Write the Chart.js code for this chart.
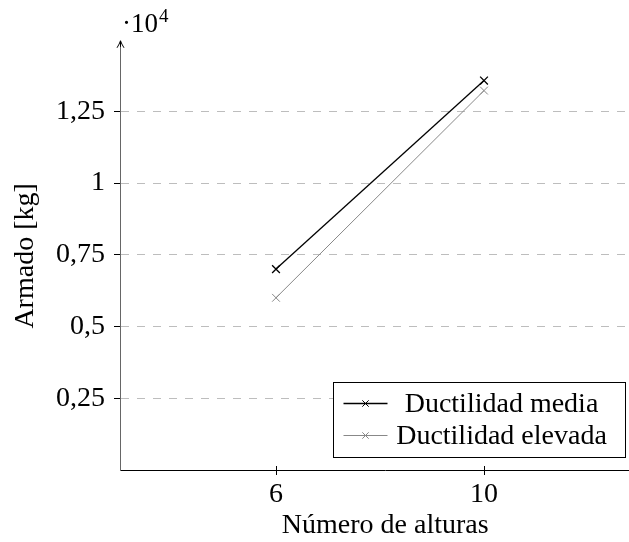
<!DOCTYPE html>
<html>
<head>
<meta charset="utf-8">
<script src="https://cdn.jsdelivr.net/npm/chart.js@4.4.1/dist/chart.umd.min.js"></script>
<style>
  html, body { margin: 0; padding: 0; background: #fff; overflow: hidden; width: 629px; height: 542px; }
  #wrap { position: absolute; left: 0; top: 0; width: 700px; height: 542px; }
  #probe { position: absolute; left: -999px; top: 0; font-family: 'Liberation Serif'; font-size: 28px; }
</style>
</head>
<body>
<span id="probe">Número de alturas 0123456789</span>
<div id="wrap"><canvas id="c" width="700" height="542"></canvas></div>
<script>
// Número de alturas (x) and steel weight in kg for each ductility class
const alturas = [6, 10];
const ductilidadMedia = [7000, 13570];
const ductilidadElevada = [6000, 13220];
const yTickValues = [2500, 5000, 7500, 10000, 12500];
const seriesNames = ['Ductilidad media', 'Ductilidad elevada'];
const xTitle = 'Número de alturas';
const yTitle = 'Armado [kg]';

const FONT = '"Liberation Serif", "DejaVu Serif", serif';
const FS = 28;

const toPoints = (xs, ys) => xs.map((x, i) => ({ x: x, y: ys[i] }));

// axis arrow, exponent label, inner x ticks and the boxed legend
const decorations = {
  id: 'decorations',
  afterDraw(chart) {
    const { ctx, chartArea: a, scales: { x } } = chart;
    ctx.save();
    ctx.strokeStyle = '#000';
    ctx.lineWidth = 1;
    const ax = a.left + 0.5, tip = a.top - 1;
    ctx.beginPath();
    ctx.moveTo(ax - 3.5, tip + 7);
    ctx.quadraticCurveTo(ax - 1, tip + 3, ax, tip);
    ctx.quadraticCurveTo(ax + 1, tip + 3, ax + 3.5, tip + 7);
    ctx.stroke();
    ctx.beginPath();
    ctx.moveTo(ax, tip);
    ctx.lineTo(ax, tip + 6);
    ctx.stroke();

    // ·10^4 multiplier
    ctx.fillStyle = '#000';
    ctx.textBaseline = 'alphabetic';
    ctx.textAlign = 'left';
    ctx.font = (FS - 1) + 'px ' + FONT;
    const base = a.top - 10;
    const t1 = '·10';
    ctx.fillText(t1, a.left + 2, base);
    const w1 = ctx.measureText(t1).width;
    ctx.font = '19px ' + FONT;
    ctx.fillText('4', a.left + 2 + w1 + 1, base - 10);

    // inner halves of the x ticks
    ctx.beginPath();
    x.ticks.forEach(t => {
      const px = Math.round(x.getPixelForValue(t.value)) + 0.5;
      ctx.moveTo(px, a.bottom);
      ctx.lineTo(px, a.bottom - 4);
    });
    ctx.stroke();

    // legend box
    const bw = 292, bh = 75;
    const bx = Math.round(a.right - 25.4 - bw) + 0.5;
    const by = Math.round(a.bottom - 13 - bh) + 0.5;
    ctx.fillStyle = '#fff';
    ctx.fillRect(bx, by, bw, bh);
    ctx.strokeStyle = '#000';
    ctx.lineWidth = 1;
    ctx.strokeRect(bx, by, bw, bh);
    chart.data.datasets.forEach((ds, i) => {
      const ry = by + 21 + i * 32;
      ctx.strokeStyle = ds.borderColor;
      ctx.lineWidth = ds.borderWidth;
      ctx.beginPath();
      ctx.moveTo(bx + 10, ry);
      ctx.lineTo(bx + 54, ry);
      ctx.stroke();
      ctx.lineWidth = 1;
      Chart.helpers.drawPoint(ctx, { pointStyle: 'crossRot', radius: 4.5, borderWidth: 1, rotation: 0 }, bx + 32, ry);
      ctx.fillStyle = '#000';
      ctx.font = FS + 'px ' + FONT;
      ctx.textAlign = 'center';
      ctx.textBaseline = 'middle';
      ctx.fillText(ds.label, bx + 168, ry + 1);
    });
    ctx.restore();
  }
};

function draw() {
  Chart.defaults.font.family = FONT;
  Chart.defaults.font.size = FS;
  Chart.defaults.color = '#000';
  new Chart(document.getElementById('c'), {
    type: 'scatter',
    data: {
      datasets: [
        {
          label: seriesNames[0],
          data: toPoints(alturas, ductilidadMedia),
          showLine: true,
          borderColor: '#000',
          backgroundColor: '#000',
          borderWidth: 1.3,
          pointStyle: 'crossRot',
          pointRadius: 5.5,
          pointBorderWidth: 1.3,
          pointBorderColor: '#000'
        },
        {
          label: seriesNames[1],
          data: toPoints(alturas, ductilidadElevada),
          showLine: true,
          borderColor: '#888',
          backgroundColor: '#888',
          borderWidth: 1,
          pointStyle: 'crossRot',
          pointRadius: 5.5,
          pointBorderWidth: 1,
          pointBorderColor: '#888'
        }
      ]
    },
    options: {
      responsive: false,
      animation: false,
      devicePixelRatio: 1,
      layout: { padding: { left: 0, top: 41.8, right: 700 - 650.4, bottom: 0 } },
      plugins: { legend: { display: false }, tooltip: { enabled: false } },
      scales: {
        x: {
          type: 'linear',
          min: 3,
          max: 13.2,
          afterBuildTicks: s => { s.ticks = alturas.map(v => ({ value: v })); },
          afterFit: s => { s.height = 72; },
          border: { color: '#000', width: 1 },
          grid: { drawOnChartArea: false, drawTicks: true, tickLength: 5, color: '#000', tickColor: '#000' },
          ticks: { padding: 3, callback: v => String(v) },
          title: { display: true, text: xTitle, padding: { top: 0, bottom: 0 } }
        },
        y: {
          type: 'linear',
          min: 0,
          max: 14920,
          afterBuildTicks: s => { s.ticks = yTickValues.map(v => ({ value: v })); },
          afterFit: s => { s.width = 120; },
          border: { color: '#666', width: 1, dash: [8, 8] },
          grid: { color: '#bdbdbd', lineWidth: 1, drawTicks: true, tickLength: 6, tickColor: '#000', tickBorderDash: [] },
          ticks: { padding: 9, callback: v => (v / 10000).toString().replace('.', ',') },
          title: { display: true, text: yTitle, padding: { top: 9, bottom: 0 } }
        }
      }
    },
    plugins: [decorations]
  });
}

if (document.fonts && document.fonts.load) {
  Promise.all([
    document.fonts.load(FS + 'px "Liberation Serif"', 'Número 0123'),
    document.fonts.load(FS + 'px "DejaVu Serif"', 'Número 0123')
  ]).then(draw, draw);
} else {
  draw();
}
</script>
</body>
</html>
